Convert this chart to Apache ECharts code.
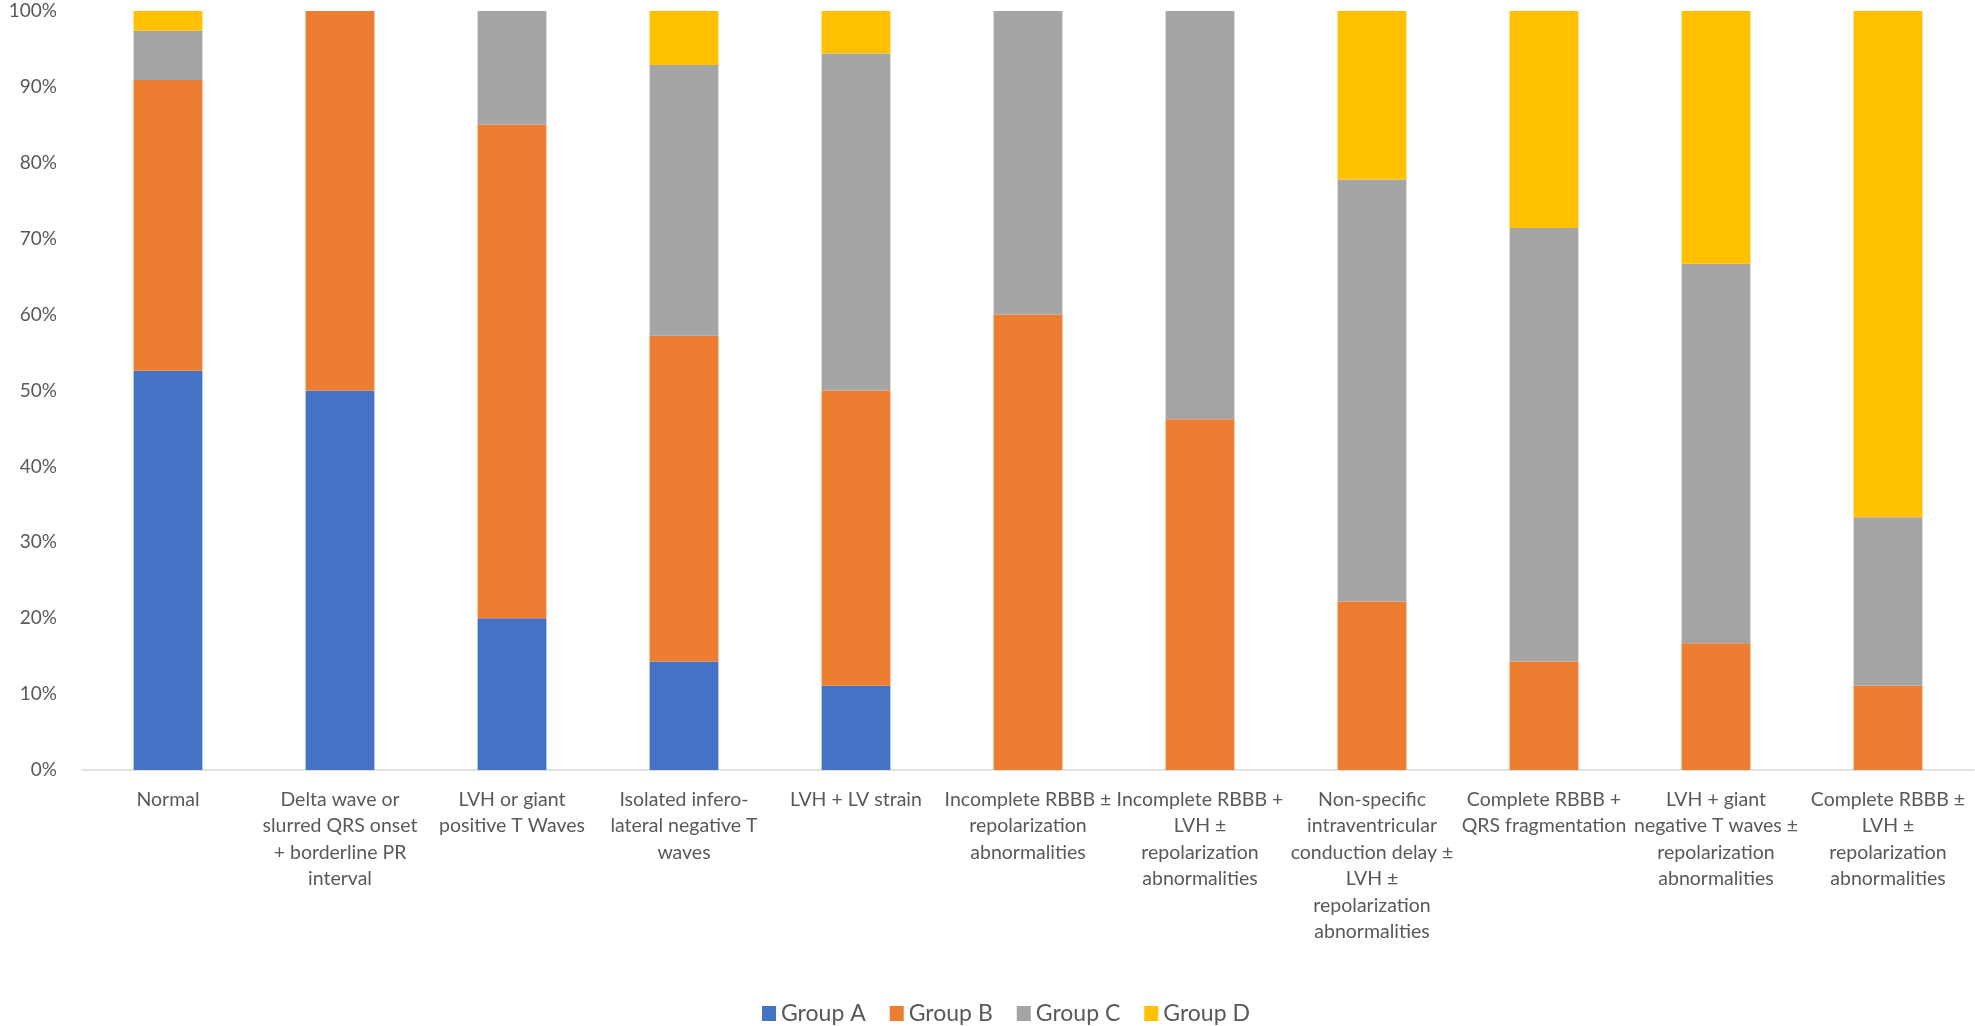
<!DOCTYPE html>
<html>
<head>
<meta charset="utf-8">
<script src="https://cdn.jsdelivr.net/npm/echarts@6/dist/echarts.min.js"></script>
<style>
html,body{margin:0;padding:0;background:#fff;}
#chart{width:1975px;height:1026px;}
</style>
</head>
<body>
<div id="chart"></div>
<script>
const categories = [
  "Normal",
  "Delta wave or\nslurred QRS onset\n+ borderline PR\ninterval",
  "LVH or giant\npositive T Waves",
  "Isolated infero-\nlateral negative T\nwaves",
  "LVH + LV strain",
  "Incomplete RBBB ±\nrepolarization\nabnormalities",
  "Incomplete RBBB +\nLVH ±\nrepolarization\nabnormalities",
  "Non-specific\nintraventricular\nconduction delay ±\nLVH ±\nrepolarization\nabnormalities",
  "Complete RBBB +\nQRS fragmentation",
  "LVH + giant\nnegative T waves ±\nrepolarization\nabnormalities",
  "Complete RBBB ±\nLVH ±\nrepolarization\nabnormalities"
];
const groupA = [52.6, 50, 20, 14.3, 11.1, 0, 0, 0, 0, 0, 0];
const groupB = [38.3, 50, 65, 42.9, 38.9, 60, 46.2, 22.2, 14.3, 16.7, 11.1];
const groupC = [6.5, 0, 15, 35.7, 44.4, 40, 53.8, 55.6, 57.1, 50, 22.2];
const groupD = [2.6, 0, 0, 7.1, 5.6, 0, 0, 22.2, 28.6, 33.3, 66.7];
const seriesNames = ["Group A", "Group B", "Group C", "Group D"];
const colors = ["#4472C4", "#ED7D31", "#A5A5A5", "#FFC000"];

const font = "Lato, 'Open Sans', sans-serif";
const chart = echarts.init(document.getElementById('chart'));
const dataSets = [groupA, groupB, groupC, groupD];
chart.setOption({
  animation: false,
  color: colors,
  textStyle: { fontFamily: font },
  legend: {
    bottom: -4,
    left: 757,
    itemWidth: 14,
    itemHeight: 15,
    itemGap: 24,
    icon: 'rect',
    textStyle: { fontFamily: font, fontSize: 23, color: '#595959' },
    data: seriesNames
  },
  grid: { left: 82, right: 1, top: 11, bottom: 256, containLabel: false },
  xAxis: {
    type: 'category',
    data: categories,
    axisLine: { lineStyle: { color: '#D9D9D9', width: 1.5 } },
    axisTick: { show: false },
    axisLabel: {
      interval: 0,
      fontFamily: font,
      fontSize: 19.5,
      color: '#595959',
      lineHeight: 26.5,
      margin: 16,
      align: 'center'
    }
  },
  yAxis: {
    type: 'value',
    min: 0,
    max: 100,
    interval: 10,
    axisLine: { show: false },
    axisTick: { show: false },
    splitLine: { show: false },
    axisLabel: {
      formatter: '{value}%',
      fontFamily: font,
      fontSize: 19,
      color: '#595959',
      margin: 25
    }
  },
  series: seriesNames.map((n, i) => ({
    name: n,
    type: 'bar',
    stack: 'total',
    barWidth: '40%',
    data: dataSets[i]
  }))
});
</script>
</body>
</html>
